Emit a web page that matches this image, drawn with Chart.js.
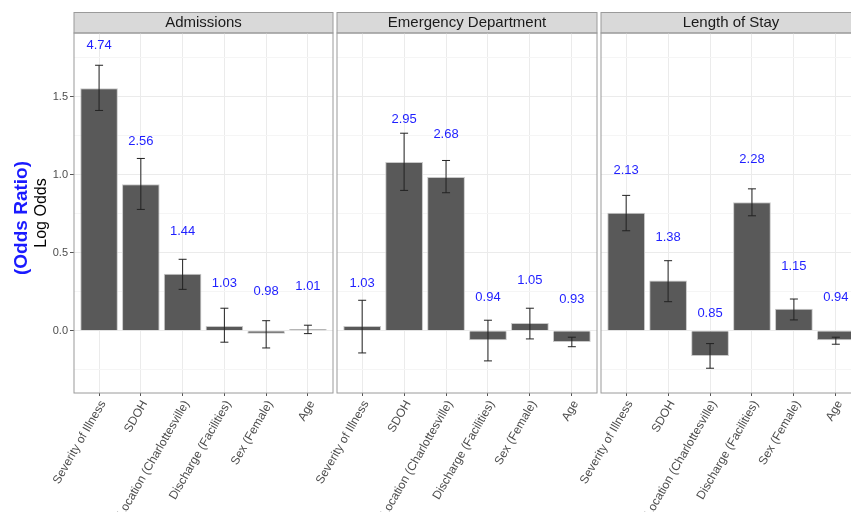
<!DOCTYPE html>
<html>
<head>
<meta charset="utf-8">
<script src="https://cdn.jsdelivr.net/npm/chart.js@4"></script>
<style>
  html, body { margin: 0; padding: 0; background: #fff; overflow: hidden; }
  #wrap { position: relative; width: 851px; height: 512px; overflow: hidden; }
  canvas { position: absolute; top: 0; }
</style>
</head>
<body>
<div id="wrap">
  <canvas id="p1" width="335" height="512" style="left:0px"></canvas>
  <canvas id="p2" width="360" height="512" style="left:240px"></canvas>
  <canvas id="p3" width="360" height="512" style="left:504px"></canvas>
</div>
<script>
const facets = ['Admissions', 'Emergency Department', 'Length of Stay'];
const predictors = ['Severity of Illness', 'SDOH', 'Location (Charlottesville)',
  'Discharge (Facilities)', 'Sex (Female)', 'Age'];

// log odds (bar), lower / upper CI, odds ratio label
const admLog  = [1.556, 0.940, 0.365, 0.030, -0.020, 0.010];
const admLow  = [1.413, 0.778, 0.265, -0.074, -0.111, -0.019];
const admHigh = [1.703, 1.105, 0.458, 0.144, 0.064, 0.035];
const admOR   = ['4.74', '2.56', '1.44', '1.03', '0.98', '1.01'];

const edLog  = [0.030, 1.082, 0.986, -0.062, 0.049, -0.073];
const edLow  = [-0.143, 0.900, 0.885, -0.194, -0.053, -0.103];
const edHigh = [0.195, 1.267, 1.092, 0.067, 0.144, -0.042];
const edOR   = ['1.03', '2.95', '2.68', '0.94', '1.05', '0.93'];

const losLog  = [0.756, 0.322, -0.163, 0.824, 0.140, -0.062];
const losLow  = [0.641, 0.186, -0.241, 0.737, 0.069, -0.087];
const losHigh = [0.868, 0.449, -0.083, 0.910, 0.203, -0.042];
const losOR   = ['2.13', '1.38', '0.85', '2.28', '1.15', '0.94'];

const yTicks = [-0.25, 0, 0.25, 0.5, 0.75, 1, 1.25, 1.5, 1.75];
const yMin = -0.40, yMax = 1.91;
const labelGap = 0.275;

const FONT = '"Liberation Sans", Arial, sans-serif';

function isMajor(v) { return Math.abs(v % 0.5) < 1e-9; }

function makePanel(id, title, logs, lows, highs, ors, first) {
  const ctx = document.getElementById(id).getContext('2d');

  const panelPlugin = {
    id: 'panel',
    beforeDraw(chart) {
      const a = chart.chartArea, c = chart.ctx;
      c.save();
      c.fillStyle = '#d9d9d9';
      c.fillRect(a.left, 12.5, a.right - a.left, a.top - 12.5);
      c.strokeStyle = '#9a9a9a';
      c.lineWidth = 1;
      c.strokeRect(a.left, 12.5, a.right - a.left, a.top - 12.5);
      c.fillStyle = '#1a1a1a';
      c.font = '15px ' + FONT;
      c.textAlign = 'center';
      c.textBaseline = 'middle';
      c.fillText(title, (a.left + a.right) / 2, (12.5 + a.top) / 2 + 0.5);
      if (first) {
        c.save();
        c.translate(42, 213);
        c.rotate(-Math.PI / 2);
        c.fillStyle = '#000';
        c.font = '16px ' + FONT;
        c.fillText('Log Odds', 0, 0);
        c.restore();
        c.save();
        c.translate(22, 218);
        c.rotate(-Math.PI / 2);
        c.fillStyle = '#1a1aff';
        c.font = 'bold 19px ' + FONT;
        c.fillText('(Odds Ratio)', 0, 0);
        c.restore();
      }
      c.restore();
    },
    afterDatasetsDraw(chart) {
      const a = chart.chartArea, c = chart.ctx;
      const xs = chart.scales.x, ys = chart.scales.y;
      c.save();
      c.strokeStyle = '#222';
      c.lineWidth = 1;
      logs.forEach((v, i) => {
        const px = xs.getPixelForValue(i);
        const lo = ys.getPixelForValue(lows[i]);
        const hi = ys.getPixelForValue(highs[i]);
        c.beginPath();
        c.moveTo(px, lo); c.lineTo(px, hi);
        c.moveTo(px - 4, lo); c.lineTo(px + 4, lo);
        c.moveTo(px - 4, hi); c.lineTo(px + 4, hi);
        c.stroke();
        c.fillStyle = '#1f1fff';
        c.font = '13px ' + FONT;
        c.textAlign = 'center';
        c.textBaseline = 'middle';
        c.fillText(ors[i], px, ys.getPixelForValue(v + labelGap));
      });
      c.strokeStyle = '#9a9a9a';
      c.strokeRect(a.left, a.top, a.right - a.left, a.bottom - a.top);
      c.restore();
    }
  };

  return new Chart(ctx, {
    type: 'bar',
    data: {
      datasets: [{
        data: logs.map((v, i) => ({ x: i, y: v })),
        backgroundColor: '#595959',
        borderColor: '#c8c8c8',
        borderWidth: 1,
        barPercentage: 0.9,
        categoryPercentage: 1.0
      }]
    },
    options: {
      responsive: false,
      animation: false,
      layout: {
        padding: { top: 33, left: first ? 0 : 97, right: first ? 2 : 3, bottom: 0 }
      },
      plugins: { legend: { display: false }, tooltip: { enabled: false } },
      scales: {
        x: {
          type: 'linear',
          min: -0.6,
          max: 5.6,
          offset: false,
          afterBuildTicks(scale) {
            scale.ticks = predictors.map((p, i) => ({ value: i }));
          },
          afterFit(scale) {
            scale.height = 119;
            scale.paddingLeft = 0;
            scale.paddingRight = 0;
          },
          border: { display: false },
          grid: { offset: false, color: '#ebebeb', tickColor: '#555', tickLength: 3 },
          ticks: {
            autoSkip: false,
            minRotation: 60,
            maxRotation: 60,
            padding: 2,
            labelOffset: 4,
            color: '#4d4d4d',
            font: { family: FONT, size: 12 },
            callback: (v) => predictors[v]
          }
        },
        y: {
          min: yMin,
          max: yMax,
          afterBuildTicks(scale) {
            scale.ticks = yTicks.map(v => ({ value: v }));
          },
          afterFit(scale) {
            scale.width = first ? 74 : 0;
            scale.paddingTop = 0;
            scale.paddingBottom = 0;
          },
          border: { display: false },
          grid: {
            color: (c) => isMajor(c.tick.value) ? '#ebebeb' : '#f5f5f5',
            tickColor: (c) => isMajor(c.tick.value) && first ? '#555' : 'rgba(0,0,0,0)',
            tickLength: 4,
            drawTicks: first
          },
          ticks: {
            display: first,
            padding: 2,
            color: '#4d4d4d',
            font: { family: FONT, size: 11 },
            callback: (v) => isMajor(v) ? v.toFixed(1) : ''
          }
        }
      }
    },
    plugins: [panelPlugin]
  });
}

makePanel('p1', facets[0], admLog, admLow, admHigh, admOR, true);
makePanel('p2', facets[1], edLog, edLow, edHigh, edOR, false);
makePanel('p3', facets[2], losLog, losLow, losHigh, losOR, false);
</script>
</body>
</html>
